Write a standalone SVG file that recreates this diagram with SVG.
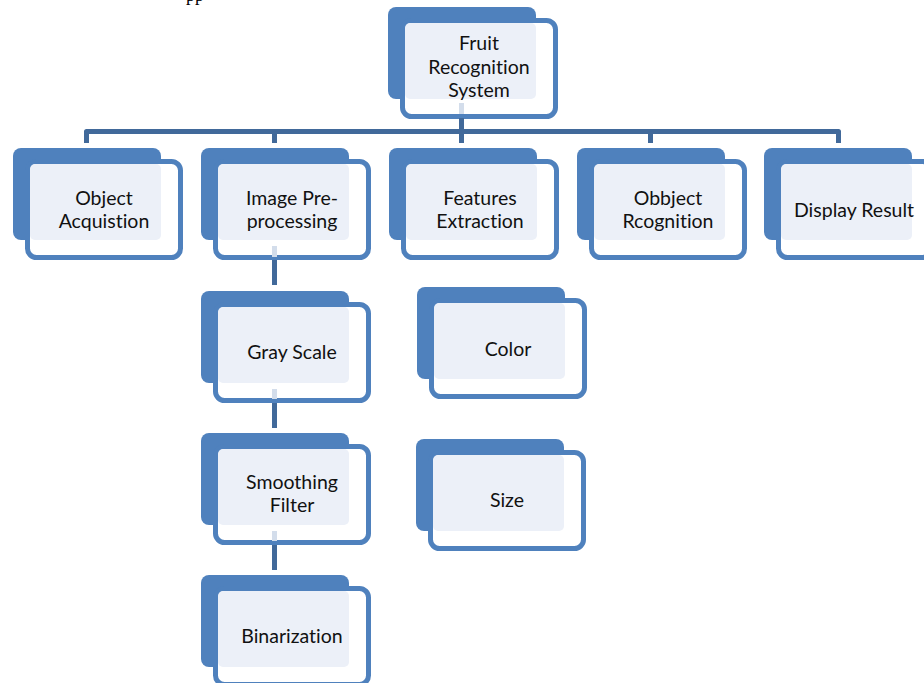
<svg xmlns="http://www.w3.org/2000/svg" width="924" height="683" viewBox="0 0 924 683">
<style>
.back{fill:#4F81BD}
.front{fill:#FFFFFF;stroke:#4F81BD;stroke-width:5}
.light{fill:#ECF0F8}
.lbl{font-family:Lato,"Open Sans",sans-serif;font-size:19.5px;fill:#111111;text-anchor:middle;font-variant-ligatures:none}
.con{fill:none;stroke:#41699A;stroke-width:5;stroke-linejoin:round}
.pale{stroke:#D3DDEB;stroke-width:5}
.frag{font-family:"Liberation Serif",serif;font-size:18px;fill:#000}
</style>
<text class="frag" x="186" y="0.5">pp</text>

<g id="root">
<rect class="back" x="388" y="7" width="148" height="92" rx="8"/>
<rect class="front" x="402.5" y="20.5" width="153" height="96" rx="9"/>
<rect class="light" x="405" y="23" width="131" height="76" rx="5"/>
<text class="lbl" x="479" y="50">Fruit</text>
<text class="lbl" x="479" y="74">Recognition</text>
<text class="lbl" x="479" y="97">System</text>
</g>

<g id="object-acquistion">
<rect class="back" x="13" y="148" width="148" height="92" rx="8"/>
<rect class="front" x="27.5" y="161.5" width="153" height="96" rx="9"/>
<rect class="light" x="30" y="164" width="131" height="76" rx="5"/>
<text class="lbl" x="104" y="205">Object</text>
<text class="lbl" x="104" y="228">Acquistion</text>
</g>

<g id="image-preprocessing">
<rect class="back" x="201" y="148" width="148" height="92" rx="8"/>
<rect class="front" x="215.5" y="161.5" width="153" height="96" rx="9"/>
<rect class="light" x="218" y="164" width="131" height="76" rx="5"/>
<text class="lbl" x="292" y="205">Image Pre-</text>
<text class="lbl" x="292" y="228">processing</text>
</g>

<g id="features-extraction">
<rect class="back" x="389" y="148" width="148" height="92" rx="8"/>
<rect class="front" x="403.5" y="161.5" width="153" height="96" rx="9"/>
<rect class="light" x="406" y="164" width="131" height="76" rx="5"/>
<text class="lbl" x="480" y="205">Features</text>
<text class="lbl" x="480" y="228">Extraction</text>
</g>

<g id="object-recognition">
<rect class="back" x="577" y="148" width="148" height="92" rx="8"/>
<rect class="front" x="591.5" y="161.5" width="153" height="96" rx="9"/>
<rect class="light" x="594" y="164" width="131" height="76" rx="5"/>
<text class="lbl" x="668" y="205">Obbject</text>
<text class="lbl" x="668" y="228">Rcognition</text>
</g>

<g id="display-result">
<rect class="back" x="764" y="148" width="148" height="92" rx="8"/>
<rect class="front" x="778.5" y="161.5" width="153" height="96" rx="9"/>
<rect class="light" x="781" y="164" width="131" height="76" rx="5"/>
<text class="lbl" x="854" y="217">Display Result</text>
</g>

<g id="gray-scale">
<rect class="back" x="201" y="291" width="148" height="92" rx="8"/>
<rect class="front" x="215.5" y="304.5" width="153" height="96" rx="9"/>
<rect class="light" x="218" y="307" width="131" height="76" rx="5"/>
<text class="lbl" x="292" y="359">Gray Scale</text>
</g>

<g id="smoothing-filter">
<rect class="back" x="201" y="433" width="148" height="92" rx="8"/>
<rect class="front" x="215.5" y="446.5" width="153" height="96" rx="9"/>
<rect class="light" x="218" y="449" width="131" height="76" rx="5"/>
<text class="lbl" x="292" y="489">Smoothing</text>
<text class="lbl" x="292" y="512">Filter</text>
</g>

<g id="binarization">
<rect class="back" x="201" y="575" width="148" height="92" rx="8"/>
<rect class="front" x="215.5" y="588.5" width="153" height="96" rx="9"/>
<rect class="light" x="218" y="591" width="131" height="76" rx="5"/>
<text class="lbl" x="292" y="643">Binarization</text>
</g>

<g id="color">
<rect class="back" x="417" y="287" width="148" height="92" rx="8"/>
<rect class="front" x="431.5" y="300.5" width="153" height="96" rx="9"/>
<rect class="light" x="434" y="303" width="131" height="76" rx="5"/>
<text class="lbl" x="508" y="356">Color</text>
</g>

<g id="size">
<rect class="back" x="416" y="439" width="148" height="92" rx="8"/>
<rect class="front" x="430.5" y="452.5" width="153" height="96" rx="9"/>
<rect class="light" x="433" y="455" width="131" height="76" rx="5"/>
<text class="lbl" x="507" y="507">Size</text>
</g>

<g id="connectors">
<line class="pale" x1="461.5" y1="103" x2="461.5" y2="114"/>
<line class="pale" x1="274.5" y1="246" x2="274.5" y2="257"/>
<line class="pale" x1="274.5" y1="389" x2="274.5" y2="399"/>
<line class="pale" x1="274.5" y1="531" x2="274.5" y2="541"/>
<path class="con" d="M86.5,143 V131.5 H838.5 V143"/>
<path class="con" d="M461.5,118 V143"/>
<path class="con" d="M274.5,131.5 V143"/>
<path class="con" d="M650.5,131.5 V143"/>
<path class="con" d="M274.5,260 V285"/>
<path class="con" d="M274.5,403 V428"/>
<path class="con" d="M274.5,545 V570"/>
</g>
</svg>
